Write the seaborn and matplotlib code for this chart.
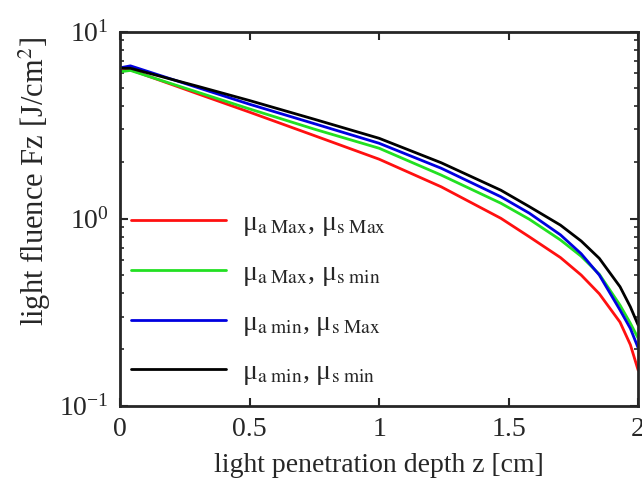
import numpy as np
import pandas as pd
import matplotlib
matplotlib.use("Agg")
import matplotlib.pyplot as plt
import seaborn as sns
from matplotlib.ticker import LogLocator, NullFormatter

# depth grid [cm] and fluence readings [J/cm^2] for each parameter set
z = [0, 0.04, 0.19, 0.3, 0.5, 0.75, 1.0, 1.24, 1.47, 1.58, 1.7, 1.78, 1.85, 1.93, 1.97, 2.0]
f_aMax_sMax = [6.15, 6.25, 5.27, 4.65, 3.71, 2.78, 2.08, 1.48, 1.005, 0.80, 0.62, 0.50, 0.397, 0.28, 0.212, 0.155]
f_aMax_smin = [6.10, 6.20, 5.31, 4.74, 3.86, 3.01, 2.38, 1.71, 1.21, 0.993, 0.77, 0.63, 0.505, 0.345, 0.276, 0.230]
f_amin_sMax = [6.40, 6.56, 5.62, 5.02, 4.09, 3.22, 2.53, 1.86, 1.31, 1.07, 0.82, 0.65, 0.50, 0.325, 0.259, 0.204]
f_amin_smin = [6.37, 6.37, 5.60, 5.10, 4.28, 3.40, 2.69, 1.99, 1.42, 1.16, 0.924, 0.76, 0.614, 0.433, 0.338, 0.27]

labels = [r'μ$_{\mathrm{a\ Max}}$, μ$_{\mathrm{s\ Max}}$',
          r'μ$_{\mathrm{a\ Max}}$, μ$_{\mathrm{s\ min}}$',
          r'μ$_{\mathrm{a\ min}}$, μ$_{\mathrm{s\ Max}}$',
          r'μ$_{\mathrm{a\ min}}$, μ$_{\mathrm{s\ min}}$']
colors = ['#ff1010', '#22e022', '#0000e0', '#000000']

series = [f_aMax_sMax, f_aMax_smin, f_amin_sMax, f_amin_smin]
df = pd.concat([pd.DataFrame({'z': z, 'F': s, 'case': lab})
                for s, lab in zip(series, labels)], ignore_index=True)

sns.set_style('ticks')
plt.rcParams['font.family'] = ['Liberation Serif', 'DejaVu Serif']
plt.rcParams['mathtext.fontset'] = 'stix'

fig = plt.figure(figsize=(6.42, 4.86), dpi=100)
ax = fig.add_axes([0.187, 0.165, 0.807, 0.770])

sns.lineplot(data=df, x='z', y='F', hue='case', palette=dict(zip(labels, colors)),
             sort=False, linewidth=2.0, ax=ax)

ax.set_yscale('log')
ax.set_xlim(0, 2)
ax.set_ylim(0.1, 10)
ax.set_xticks([0, 0.5, 1, 1.5, 2])
ax.set_xticklabels(['0', '0.5', '1', '1.5', '2'])
ax.yaxis.set_major_locator(LogLocator(base=10))
ax.yaxis.set_minor_locator(LogLocator(base=10, subs=np.arange(2, 10)))
ax.yaxis.set_minor_formatter(NullFormatter())

ax.tick_params(which='both', direction='in', top=True, right=True, labelsize=20, pad=8)
ax.tick_params(which='major', length=6, width=1.5)
ax.tick_params(which='minor', length=3, width=1.2)
for sp in ax.spines.values():
    sp.set_linewidth(2.0)

ax.set_xlabel('light penetration depth z [cm]', fontsize=20, labelpad=8)
ax.set_ylabel(r'light fluence Fz [J/cm$^2$]', fontsize=22)
ax.yaxis.set_label_coords(-0.13, 0.60)

ax.legend(frameon=False, loc='lower left', bbox_to_anchor=(0.0, 0.02),
          fontsize=20, handlelength=3.4, handletextpad=0.6,
          labelspacing=0.8, borderaxespad=0.0)

fig.savefig('out.png', dpi=100)
